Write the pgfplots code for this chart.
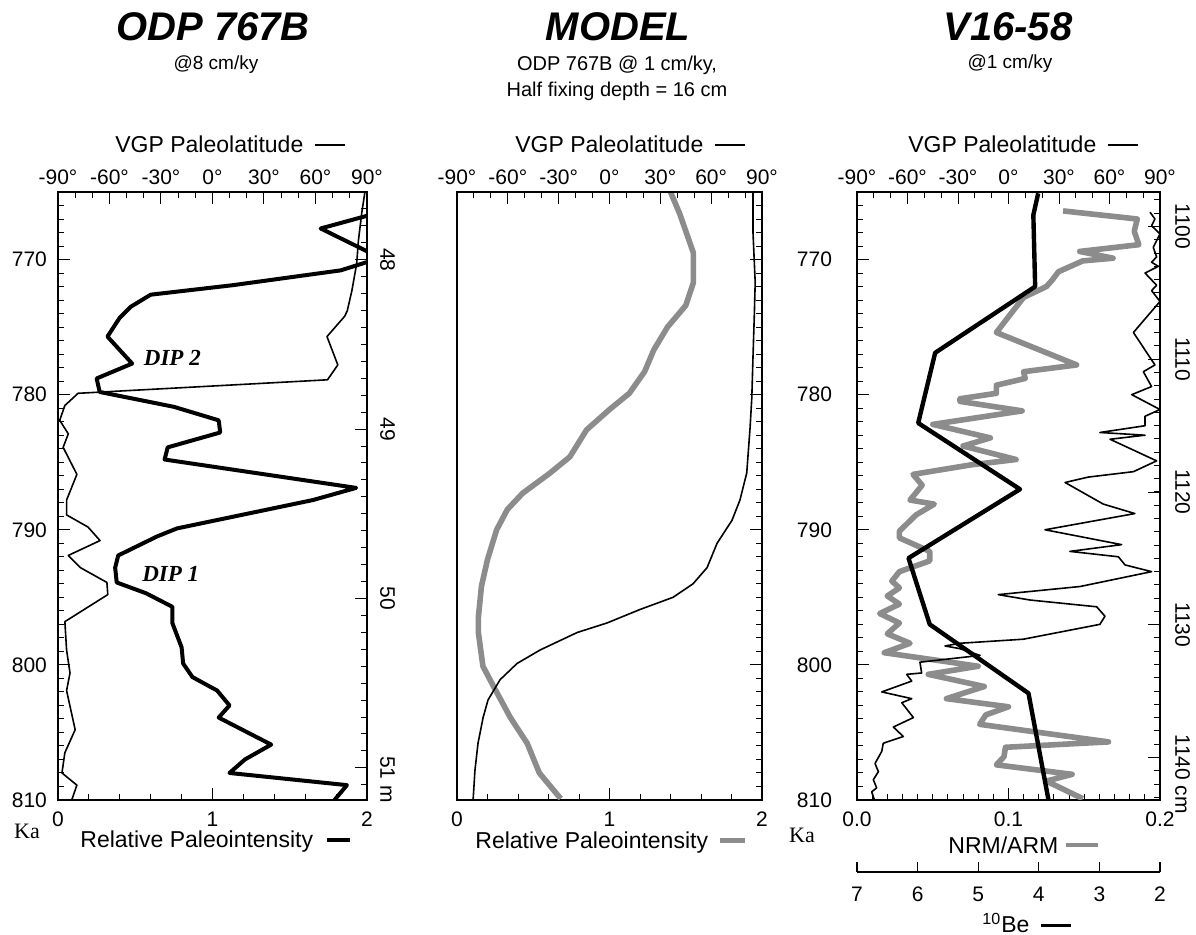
\documentclass[border=0pt]{standalone}
\usepackage{fontspec}
\setmainfont{Liberation Sans}
\newfontfamily\timesf{Liberation Serif}
\usepackage{pgfplots}
\pgfplotsset{compat=1.18}

\definecolor{stip}{gray}{0.55}

\pgfplotsset{
  panel/.style={
    scale only axis, height=304pt, anchor=south west,
    ymin=765, ymax=810, y dir=reverse,
    axis line style={line width=0.6pt},
    every tick/.style={line width=0.5pt, black},
    major tick length=6pt, minor tick length=3pt,
    tick align=inside,
    tick label style={font=\fontsize{10.5}{12}\selectfont},
    /pgf/number format/assume math mode=true,
    /pgf/number format/1000 sep={},
  },
  agemain/.style={panel, ytick={770,780,790,800,810}, minor ytick={766,...,809}},
  latax/.style={panel, xmin=-90, xmax=90, axis x line*=top, hide y axis,
    tick align=inside, xtick={-90,-60,...,90},
    xticklabels={-90°,-60°,-30°,0°,30°,60°,90°}, minor x tick num=2},
  thinl/.style={black, line width=0.8pt, line join=round},
  thickl/.style={black, line width=2pt, line join=round},
  grayl/.style={stip, line width=2.8pt, line join=round},
}

\begin{document}
\begin{tikzpicture}
\path[use as bounding box] (0,0) rectangle (598pt,467.5pt);

% ---------- panel 1: ODP 767B ----------
\begin{axis}[agemain, at={(29pt,67.5pt)}, width=154.5pt,
  xmin=0, xmax=2, xtick={0,1,2}, minor x tick num=4,
  xtick pos=left, ytick pos=left,
  yticklabel style={xshift=-2pt}, xticklabel style={yshift=-2.5pt}]
\addplot[thickl] coordinates {
 (2.02,766.7) (1.70,767.7) (2.02,769.5) (2.08,769.9) (1.83,770.8) (1.13,771.9)
 (0.60,772.6) (0.47,773.5) (0.40,774.3) (0.32,775.7) (0.48,777.7) (0.25,778.8)
 (0.27,779.8) (0.75,780.9) (1.04,781.9) (1.05,782.8) (0.71,783.9) (0.69,784.8)
 (1.93,786.9) (1.65,787.8) (0.77,789.9) (0.64,790.5) (0.39,791.9) (0.37,792.8)
 (0.38,793.9) (0.57,794.7) (0.74,795.7) (0.74,796.9) (0.80,798.7) (0.81,799.9)
 (0.87,800.9) (1.03,801.9) (1.11,803.0) (1.04,803.9) (1.38,805.9) (1.21,807.0)
 (1.11,808.0) (1.87,808.9) (1.79,810)};
\node[font=\timesf\fontsize{11.5}{13}\selectfont\bfseries\itshape] at (axis cs:0.74,777.3) {DIP 2};
\node[font=\timesf\fontsize{11.5}{13}\selectfont\bfseries\itshape] at (axis cs:0.73,793.3) {DIP 1};
\end{axis}

\begin{axis}[latax, at={(29pt,67.5pt)}, width=154.5pt]
\addplot[thinl] coordinates {
 (88.8,765) (87,766.5) (85,768.6) (84,770.3) (81.2,772.3) (78.5,773.8) (77,774.2)
 (66.7,775.7) (73,777.8) (67,778.9) (-78.3,779.9) (-86,780.8) (-89,781.9)
 (-84,782.9) (-87,783.9) (-79,785.9) (-85,787.8) (-85,788.9) (-72.5,789.8)
 (-65.5,790.8) (-84,791.9) (-77,792.8) (-61.5,793.9) (-61,794.8) (-86,796.8)
 (-85,798.9) (-83,800.6) (-85,801.9) (-80,804.8) (-86,806.5) (-87.7,808)
 (-79,808.9) (-82,810)};
\end{axis}

\begin{axis}[panel, at={(29pt,67.5pt)}, width=154.5pt, xmin=0, xmax=1,
  hide x axis, axis y line*=right, ymin=47.6, ymax=51.19,
  ytick={48,49,50,51}, yticklabels={48,49,50,51\rlap{\ m}},
  minor ytick={47.7,47.8,...,51.15},
  yticklabel style={rotate=-90, anchor=south, yshift=3pt}]
\addplot[draw=none] coordinates {(0.5,48)};
\end{axis}

% ---------- panel 2: MODEL ----------
\begin{axis}[agemain, at={(228.5pt,67.5pt)}, width=152.5pt,
  xmin=0, xmax=2, xtick={0,1,2}, minor x tick num=4,
  xtick pos=left, ytick pos=right, yticklabels={},
  xticklabel style={yshift=-2.5pt}]
\addplot[grayl] coordinates {
 (1.40,765) (1.46,766.6) (1.55,769.5) (1.55,771.7) (1.50,773.4) (1.38,775)
 (1.29,776.7) (1.23,778.3) (1.13,779.9) (1.00,781.1) (0.85,782.6) (0.74,784.6)
 (0.61,785.8) (0.43,787.3) (0.33,788.5) (0.26,790) (0.20,792.2) (0.16,794.2)
 (0.14,796.5) (0.14,797.6) (0.17,800.1) (0.24,801.6) (0.35,803.9) (0.46,805.8)
 (0.54,808) (0.68,809.9)};
\end{axis}

\begin{axis}[latax, at={(228.5pt,67.5pt)}, width=152.5pt]
\addplot[thinl] coordinates {
 (84.7,765) (84.7,768) (86,771.7) (85.5,774) (84.7,777.2) (84,780.2) (83,782.4)
 (81,785.8) (77,787.8) (72.3,789.3) (63.5,791) (57.6,792.8) (49.3,794)
 (37.5,795) (18,795.9) (-1.5,796.9) (-19,797.6) (-41,798.9) (-54.6,799.9)
 (-64.6,801.1) (-71.7,802.6) (-74.6,803.9) (-77.6,805.8) (-79.4,807.8)
 (-80.5,810)};
\end{axis}

% ---------- panel 3: V16-58 ----------
\begin{axis}[agemain, at={(428.5pt,67.5pt)}, width=151.5pt,
  xmin=0, xmax=0.2, xtick={0,0.1,0.2}, xticklabels={0.0,0.1,0.2},
  minor x tick num=9, xtick pos=left, ytick pos=left,
  yticklabel style={xshift=-9pt}, xticklabel style={yshift=-2.5pt}]
\addplot[grayl] coordinates {
 (0.136,766.4) (0.185,767.0) (0.183,767.9) (0.186,768.9) (0.147,769.4)
 (0.169,769.9) (0.149,770.1) (0.133,770.9) (0.129,771.5) (0.125,772.0)
 (0.110,772.8) (0.103,773.8) (0.092,775.4) (0.145,777.8) (0.110,778.3)
 (0.111,778.8) (0.092,779.3) (0.092,779.9) (0.068,780.3) (0.068,780.5)
 (0.109,781.2) (0.050,782.2) (0.088,783.2) (0.070,783.8) (0.105,784.8)
 (0.075,785.2) (0.037,785.9) (0.043,786.7) (0.035,787.8) (0.051,788.1)
 (0.039,788.9) (0.028,790.1) (0.028,790.6) (0.048,791.6) (0.048,792.3)
 (0.028,793.1) (0.023,793.8) (0.028,794.3) (0.020,794.9) (0.028,795.5)
 (0.015,796.2) (0.028,796.9) (0.020,797.7) (0.035,798.4) (0.018,799.1)
 (0.080,800.1) (0.047,800.7) (0.084,801.6) (0.059,802.5) (0.100,803.1)
 (0.085,803.7) (0.081,804.4) (0.166,805.7) (0.098,806.1) (0.097,806.8)
 (0.092,807.4) (0.142,808.1) (0.125,808.6) (0.149,809.9)};
\end{axis}

\begin{axis}[latax, at={(428.5pt,67.5pt)}, width=151.5pt]
\addplot[thinl] coordinates {
 (84.1,766.5) (87.0,767.0) (85.0,767.5) (90,768.1) (86.0,769.1) (88.0,769.8)
 (85,770.2) (89,770.5) (81.1,771.0) (88.0,771.9) (85,772.3) (90,773.1)
 (74.2,775.4) (87.0,777.8) (80.1,778.3) (85,779.4) (73.2,780.0) (90,781.1)
 (81.1,781.6) (81.1,782.3) (54.3,782.8) (81.1,783.0) (60.3,783.3) (88.0,784.9)
 (74.2,785.7) (47.4,786.1) (33.6,786.5) (56.3,788.1) (75.1,788.8) (21.7,790.0)
 (67.2,791.1) (36.5,791.6) (65.3,792.0) (69.2,792.6) (85.0,793.1) (42.5,794.2)
 (-6.1,794.8) (12.8,795.2) (52.4,795.7) (57.3,796.4) (54.3,797.0) (8.8,798.1)
 (-28.8,798.4) (-37.7,798.6) (-28.8,798.8) (-16.9,799.3) (-52.6,799.8)
 (-51.6,800.6) (-60.5,800.7) (-57.5,801.2) (-75.3,802.0) (-57.5,802.5)
 (-63.4,802.8) (-56.5,803.9) (-68.4,804.6) (-62.5,805.3) (-74.4,805.8)
 (-75.3,806.4) (-79.3,807.3) (-77.3,807.9) (-80.3,808.5) (-78.3,809.1)
 (-81.3,809.4) (-79.3,810.1)};
\end{axis}

\begin{axis}[panel, at={(428.5pt,67.5pt)}, width=151.5pt,
  xmin=2, xmax=7, x dir=reverse, hide axis]
\addplot[black, line width=2.2pt, line join=round] coordinates {
 (4.01,765.1) (4.09,766.7) (4.06,772.0) (5.71,776.9) (5.99,782.1) (4.31,787.0)
 (6.15,792.1) (5.80,797.0) (4.17,802.1) (3.84,810)};
\end{axis}

\begin{axis}[panel, at={(428.5pt,67.5pt)}, width=151.5pt, xmin=0, xmax=1,
  hide x axis, axis y line*=right, ymin=1097.4, ymax=1143.2,
  ytick={1100,1110,1120,1130,1140},
  yticklabels={1100,1110,1120,1130,1140\rlap{\ cm}},
  minor ytick={1098,...,1143},
  yticklabel style={rotate=-90, anchor=south, yshift=4pt}]
\addplot[draw=none] coordinates {(0.5,1110)};
\end{axis}

% 10Be scale
\begin{axis}[scale only axis, anchor=south west, at={(428.5pt,31.5pt)},
  width=151.5pt, height=6pt, xmin=2, xmax=7, x dir=reverse, ymin=0, ymax=1,
  axis x line*=bottom, hide y axis, tick align=inside,
  axis line style={line width=0.6pt}, every tick/.style={line width=0.6pt, black},
  xtick={2,3,4,5,6,7}, major tick length=5pt,
  tick label style={font=\fontsize{10.5}{12}\selectfont},
  /pgf/number format/assume math mode=true, xticklabel style={yshift=-4pt}]
\addplot[draw=none] coordinates {(3,0.5)};
\end{axis}

% ---------- titles and labels ----------
\node[font=\fontsize{20}{24}\selectfont\bfseries\itshape] at (106.5pt,454pt) {ODP 767B};
\node[font=\fontsize{9.5}{11}\selectfont] at (108pt,435pt) {@8 cm/ky};
\node[font=\fontsize{20}{24}\selectfont\bfseries\itshape] at (309pt,454pt) {MODEL};
\node[font=\fontsize{10}{12}\selectfont] at (308.5pt,435pt) {ODP 767B @ 1 cm/ky,};
\node[font=\fontsize{10}{12}\selectfont] at (308.5pt,422pt) {Half fixing depth = 16 cm};
\node[font=\fontsize{20}{24}\selectfont\bfseries\itshape] at (504pt,454pt) {V16-58};
\node[font=\fontsize{9.5}{11}\selectfont] at (505pt,435.5pt) {@1 cm/ky};

\node[font=\fontsize{11.5}{13}\selectfont, anchor=west, inner sep=0pt] at (57.5pt,395.3pt)
  {VGP Paleolatitude\hspace{6pt}\rule[0.3em]{15pt}{0.8pt}};
\node[font=\fontsize{11.5}{13}\selectfont, anchor=west, inner sep=0pt] at (257.5pt,395.3pt)
  {VGP Paleolatitude\hspace{6pt}\rule[0.3em]{15pt}{0.8pt}};
\node[font=\fontsize{11.5}{13}\selectfont, anchor=west, inner sep=0pt] at (454pt,395.3pt)
  {VGP Paleolatitude\hspace{6pt}\rule[0.3em]{15pt}{0.8pt}};

\node[font=\fontsize{11.5}{13}\selectfont, anchor=west, inner sep=0pt] at (40pt,46.5pt)
  {Relative Paleointensity\hspace{7pt}\rule[0.25em]{11.5pt}{2pt}};
\node[font=\fontsize{11.5}{13}\selectfont, anchor=west, inner sep=0pt] at (237.5pt,46pt)
  {Relative Paleointensity\hspace{6pt}{\color{stip}\rule[0.25em]{12.5pt}{2.4pt}}};
\node[font=\fontsize{11.5}{13}\selectfont, anchor=west, inner sep=0pt] at (474pt,45pt)
  {NRM/ARM\hspace{4pt}{\color{stip}\rule[0.25em]{16pt}{2.4pt}}};
\node[font=\fontsize{11.5}{13}\selectfont, anchor=west, inner sep=0pt] at (491pt,6pt)
  {\textsuperscript{10}Be\hspace{6pt}\rule[0.25em]{15pt}{1.8pt}};

\node[font=\timesf\fontsize{11}{13}\selectfont] at (13.5pt,52pt) {Ka};
\node[font=\timesf\fontsize{11}{13}\selectfont] at (401pt,50pt) {Ka};
\end{tikzpicture}
\end{document}
